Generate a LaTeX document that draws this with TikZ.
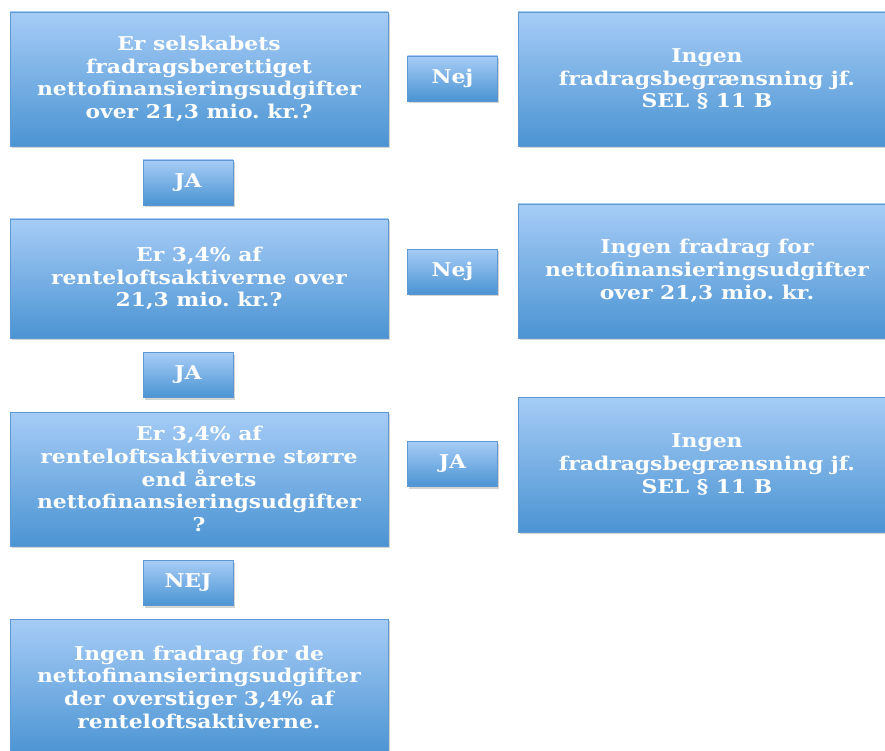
\documentclass[tikz,border=0pt]{standalone}
\usepackage{fontspec}
\setmainfont[FakeStretch=1.15]{DejaVu Serif}
\usetikzlibrary{shadows}
\definecolor{boxtop}{HTML}{A6CCF6}
\definecolor{boxbot}{HTML}{4B94D3}
\definecolor{boxline}{HTML}{5E98D2}
\tikzset{
  flowbox/.style={rectangle, draw=boxline, line width=0.6pt, top color=boxtop, bottom color=boxbot,
    text=white, font=\bfseries\frenchspacing\fontsize{19}{22.7}\selectfont, align=center, inner sep=0pt,
    drop shadow={opacity=0.35, shadow xshift=1.5pt, shadow yshift=-2pt}},
  bigbox/.style={flowbox, minimum width=378pt},
  tagbox/.style={flowbox, minimum width=90pt, minimum height=45pt}
}
\begin{document}
\begin{tikzpicture}[x=1pt,y=-1pt]
\useasboundingbox (0,0) rectangle (885,751);
% left column
\node[bigbox, minimum height=134pt] (q1) at (199,79) {Er selskabets\\fradragsberettiget\\nettofinansieringsudgifter\\over 21,3 mio. kr.?};
\node[tagbox] (ja1) at (188,182.5) {JA};
\node[bigbox, minimum height=119pt] (q2) at (199,278.5) {Er 3,4\% af\\renteloftsaktiverne over\\21,3 mio. kr.?};
\node[tagbox] (ja2) at (188,375) {JA};
\node[bigbox, minimum height=134pt] (q3) at (199,479) {Er 3,4\% af\\renteloftsaktiverne større\\end årets\\nettofinansieringsudgifter\\?};
\node[tagbox] (nej3) at (188,583) {NEJ};
\node[bigbox, minimum height=136pt] (r4) at (199,687) {Ingen fradrag for de\\nettofinansieringsudgifter\\der overstiger 3,4\% af\\renteloftsaktiverne.};
% middle column
\node[tagbox] (nej1) at (452.5,78.5) {Nej};
\node[tagbox] (nej2) at (452.5,271.5) {Nej};
\node[tagbox] (ja3) at (452.5,464) {JA};
% right column
\node[bigbox, minimum height=134pt] (r1) at (707,79) {Ingen\\fradragsbegrænsning jf.\\SEL § 11 B};
\node[bigbox, minimum height=134pt] (r2) at (707,271) {Ingen fradrag for\\nettofinansieringsudgifter\\over 21,3 mio. kr.};
\node[bigbox, minimum height=135pt] (r3) at (707,464.5) {Ingen\\fradragsbegrænsning jf.\\SEL § 11 B};
\end{tikzpicture}
\end{document}
